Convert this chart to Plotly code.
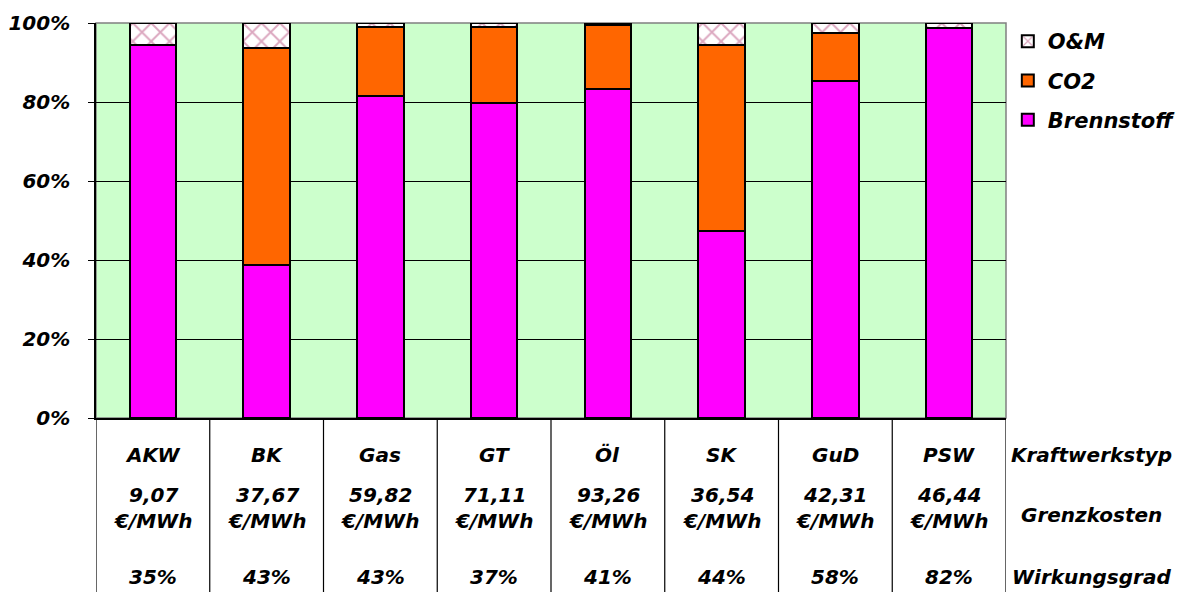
import plotly.graph_objects as go

# Kraftwerkstypen and their cost structure (share of marginal cost, %)
kraftwerkstyp = ["AKW", "BK", "Gas", "GT", "Öl", "SK", "GuD", "PSW"]
brennstoff = [94.4, 38.7, 81.5, 79.8, 83.4, 47.3, 85.3, 98.8]
co2 = [0.0, 54.9, 17.5, 19.2, 16.1, 47.1, 12.2, 0.0]
om = [5.6, 6.4, 1.0, 1.0, 0.5, 5.6, 2.5, 1.2]

grenzkosten = ["9,07", "37,67", "59,82", "71,11", "93,26", "36,54", "42,31", "46,44"]
wirkungsgrad = ["35%", "43%", "43%", "37%", "41%", "44%", "58%", "82%"]
zeilen = ["Kraftwerkstyp", "Grenzkosten", "Wirkungsgrad"]

FONT = "DejaVu Sans"
txt = dict(family=FONT, size=20, color="black", weight="bold", style="italic")
line_black = dict(color="black", width=2)

x = list(range(len(kraftwerkstyp)))

fig = go.Figure()
fig.add_trace(go.Bar(x=x, y=brennstoff, name="Brennstoff", legendrank=3, legendgroup="b",
                     marker=dict(color="#FF00FF", line=line_black)))
fig.add_trace(go.Bar(x=x, y=co2, name="CO2", legendrank=2, legendgroup="c",
                     marker=dict(color="#FF6600", line=line_black)))
fig.add_trace(go.Bar(x=x, y=om, name="O&M", legendrank=1, legendgroup="o",
                     marker=dict(color="white", line=line_black,
                                 pattern=dict(shape="x", fgcolor="#B85080",
                                              bgcolor="white", size=13,
                                              solidity=0.28))))

shapes = []
# plot area frame
shapes.append(dict(type="rect", xref="paper", yref="paper", x0=0, x1=1, y0=0, y1=1,
                   line=dict(color="#808080", width=1.5), layer="below"))
# table columns below the chart
for k in range(len(kraftwerkstyp) + 1):
    shapes.append(dict(type="line", xref="x", yref="paper", x0=k - 0.5, x1=k - 0.5,
                       y0=0, y1=-0.5, line=dict(color="black", width=1.2)))

annotations = []
for i, name in enumerate(kraftwerkstyp):
    annotations.append(dict(x=i, y=-0.094, xref="x", yref="paper", text=name,
                            showarrow=False, font=txt, xanchor="center", yanchor="middle"))
    annotations.append(dict(x=i, y=-0.228, xref="x", yref="paper",
                            text=f"{grenzkosten[i]}<br>€/MWh",
                            showarrow=False, font=txt, xanchor="center", yanchor="middle"))
    annotations.append(dict(x=i, y=-0.403, xref="x", yref="paper", text=wirkungsgrad[i],
                            showarrow=False, font=txt, xanchor="center", yanchor="middle"))
for label, yy in zip(zeilen, [-0.094, -0.246, -0.403]):
    annotations.append(dict(x=1.0945, y=yy, xref="paper", yref="paper", text=label,
                            showarrow=False, font=txt, xanchor="center", yanchor="middle"))

fig.update_layout(
    width=1184, height=592,
    margin=dict(l=96, r=178, t=23, b=174, autoexpand=False),
    barmode="stack", bargap=0.59,
    plot_bgcolor="#CCFFCC", paper_bgcolor="white",
    font=dict(family=FONT, color="black"),
    showlegend=True,
    legend=dict(x=1.002, y=1.005, xanchor="left", yanchor="top",
                traceorder="grouped", tracegroupgap=9,
                font=dict(txt, size=21), bgcolor="rgba(0,0,0,0)",
                itemwidth=30),
    shapes=shapes, annotations=annotations,
)
fig.update_xaxes(range=[-0.5, len(kraftwerkstyp) - 0.5], showticklabels=False,
                 showgrid=False, zeroline=False, showline=True,
                 linecolor="black", linewidth=1.5)
fig.update_yaxes(range=[0, 100], dtick=20, ticksuffix="%", tickfont=txt,
                 showgrid=True, gridcolor="black", gridwidth=1,
                 zeroline=False, showline=True, linecolor="black", linewidth=1.5,
                 ticks="outside", ticklen=6, tickcolor="black",
                 ticklabelstandoff=14)

fig.write_html("out.html")
